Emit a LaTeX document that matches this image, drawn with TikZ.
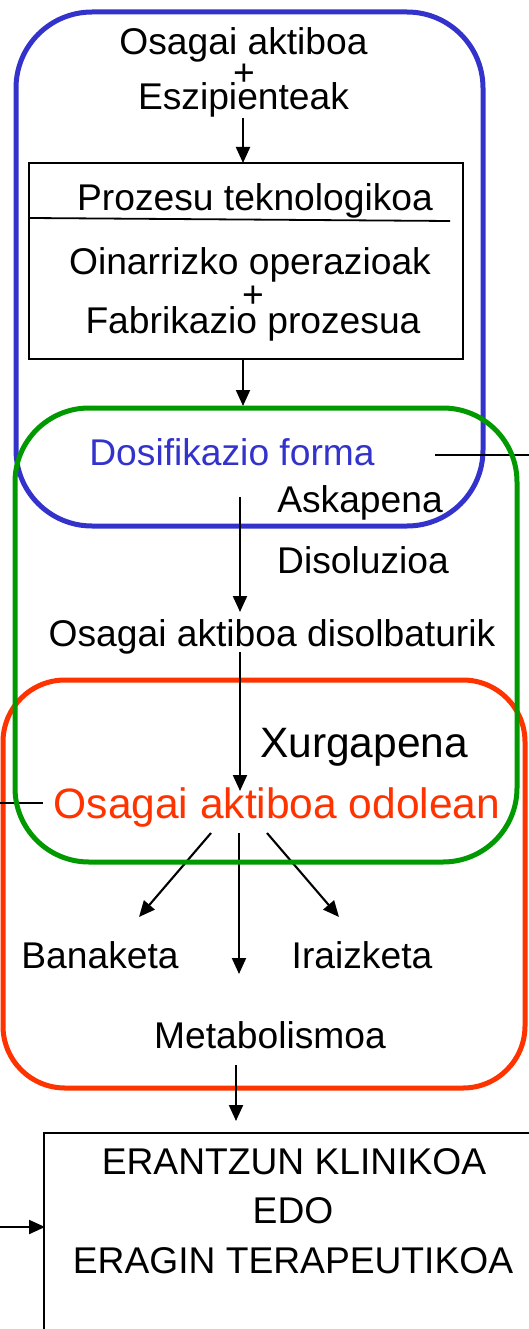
\documentclass[tikz,border=0pt]{standalone}
\usepackage{fontspec}
\setmainfont{Liberation Sans}
\usetikzlibrary{arrows.meta}
\definecolor{cblue}{RGB}{51,51,204}
\definecolor{cgreen}{RGB}{0,153,0}
\definecolor{cred}{RGB}{255,51,0}
\begin{document}
\begin{tikzpicture}[x=1pt,y=-1pt,
  font=\fontsize{37.2}{44}\selectfont,
  txt/.style={anchor=base,inner sep=0pt},
  big/.style={font=\fontsize{42.5}{50}\selectfont},
  arr/.style={line width=2.1pt,-{Triangle[length=16pt,width=14pt]}},
  ln/.style={line width=1.8pt},
  frame/.style={line width=5pt}]
\clip (0,0) rectangle (529,1329);
\fill[white] (0,0) rectangle (529,1329);
% frames
\draw[frame,cblue,rounded corners=76pt] (16,12) rectangle (483,526);
\draw[frame,cred,rounded corners=62pt] (3,680) rectangle (525,1088);
% top part
\node[txt] (t1) at (243.5,55) {Osagai aktiboa};
\node[txt] (p1) at (244,86) {+};
\node[txt] (t2) at (243.5,110) {Eszipienteak};
\node[draw,ln,minimum width=434pt,minimum height=196pt,inner sep=0pt] (box) at (246,261) {};
\coordinate (dl) at (30,218);
\coordinate (dr) at (450,221);
\draw[ln] (dl) -- (dr);
\node[txt] (t3) at (255,211) {Prozesu teknologikoa};
\node[txt] (t4) at (250,275) {Oinarrizko operazioak};
\node[txt] (p2) at (253,307) {+};
\node[txt] (t5) at (253,333) {Fabrikazio prozesua};
\coordinate (a1s) at (243,118);
\coordinate (a1e) at (243,163);
\draw[arr] (a1s) -- (a1e);
\coordinate (a2s) at (243,360);
\coordinate (a2e) at (243,406);
\draw[arr] (a2s) -- (a2e);
% dosification
\node[txt,cblue] (t6) at (232,465) {Dosifikazio forma};
\coordinate (l1s) at (435,455);
\coordinate (l1e) at (529,455);
\draw[ln] (l1s) -- (l1e);
\node[txt] (t7) at (360,512) {Askapena};
\node[txt] (t8) at (363,573) {Disoluzioa};
\coordinate (a3s) at (240,497);
\coordinate (a3e) at (240,612);
\draw[arr] (a3s) -- (a3e);
\node[txt] (t9) at (272,646) {Osagai aktiboa disolbaturik};
\coordinate (a4s) at (240,652);
\coordinate (a4e) at (240,791);
\draw[arr] (a4s) -- (a4e);
\node[txt,big] (t10) at (364,757) {Xurgapena};
\node[txt,big,cred] (t11) at (277,818) {Osagai aktiboa odolean};
\coordinate (l2s) at (0,803);
\coordinate (l2e) at (43,803);
\draw[ln] (l2s) -- (l2e);
% distribution
\coordinate (b1s) at (211,833);
\coordinate (b1e) at (139,917);
\coordinate (b2s) at (239,833);
\coordinate (b2e) at (239,974);
\coordinate (b3s) at (267,833);
\coordinate (b3e) at (339,917);
\draw[arr] (b1s) -- (b1e);
\draw[arr] (b2s) -- (b2e);
\draw[arr] (b3s) -- (b3e);
\node[txt] (t12) at (100,968) {Banaketa};
\node[txt] (t13) at (362,968) {Iraizketa};
\node[txt] (t14) at (270,1048) {Metabolismoa};
\coordinate (a5s) at (236,1065);
\coordinate (a5e) at (236,1121);
\draw[arr] (a5s) -- (a5e);
% green frame on top
\draw[frame,cgreen,rounded corners=74pt] (15,408) rectangle (517,862);
% final box
\coordinate (bx1) at (545,1133);
\coordinate (bx2) at (44,1133);
\coordinate (bx3) at (44,1345);
\draw[ln] (bx1) -- (bx2) -- (bx3);
\node[txt] (t15) at (294,1174) {ERANTZUN KLINIKOA};
\node[txt] (t16) at (293,1223) {EDO};
\node[txt] (t17) at (293,1273) {ERAGIN TERAPEUTIKOA};
\coordinate (a6s) at (0,1227);
\coordinate (a6e) at (45,1227);
\draw[arr] (a6s) -- (a6e);
\end{tikzpicture}
\end{document}
